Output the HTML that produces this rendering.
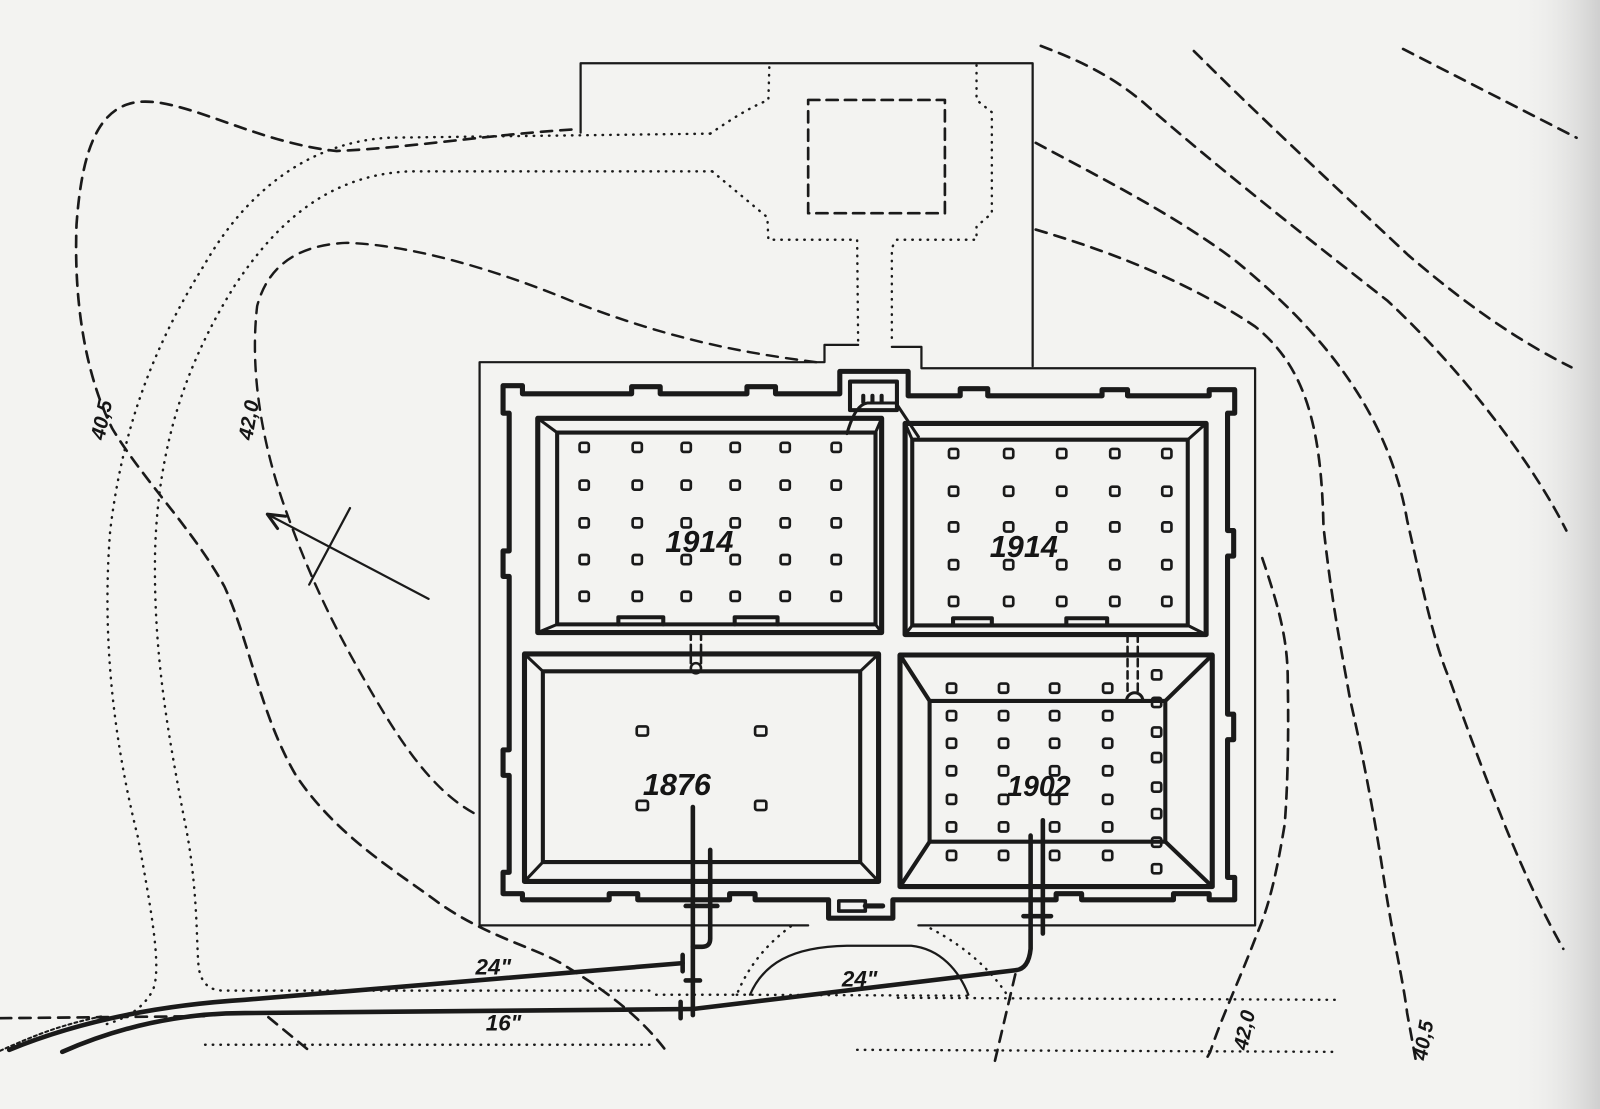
<!DOCTYPE html>
<html><head><meta charset="utf-8">
<style>
html,body{margin:0;padding:0;background:#f3f3f1;}
svg{display:block;}
text{font-family:"Liberation Sans",sans-serif;font-style:italic;font-weight:bold;fill:#151515;}
</style></head>
<body>
<svg width="1600" height="1109" viewBox="0 0 1568 1087" preserveAspectRatio="none" xmlns="http://www.w3.org/2000/svg">
<defs>
<linearGradient id="edge" x1="0" x2="1" y1="0" y2="0">
<stop offset="0" stop-color="#f3f3f1" stop-opacity="0"/>
<stop offset="1" stop-color="#cfcfcf"/>
</linearGradient>
</defs>
<rect width="1568" height="1087" fill="#f3f3f1"/>
<rect x="1480" y="0" width="88" height="1087" fill="url(#edge)"/>

<g fill="none" stroke="#1a1a1a" stroke-linecap="round" stroke-linejoin="round">
<g stroke-width="2.6" stroke-dasharray="11,8">
<path d="M560,127 C480,132 400,145 330,148 C250,140 180,95 135,100 C95,105 80,150 75,220 C72,300 85,370 110,420 C140,470 190,520 220,575 C245,630 255,700 290,760 C330,820 390,855 430,885 C480,920 530,930 556,948 C600,975 630,1000 652,1029"/>
<path d="M800,355 C720,345 650,330 560,295 C480,262 400,240 340,238 C290,240 262,262 252,300 C245,360 255,430 280,500 C305,570 330,620 365,680 C400,740 430,780 470,800" stroke-width="2.4"/>
<path d="M0,998 L200,996"/>
<path d="M263,997 L302,1029"/>
<path d="M1375,48 L1545,135"/>
<path d="M1170,50 C1230,110 1300,175 1380,250 C1450,310 1500,340 1540,360"/>
<path d="M1020,45 C1060,60 1090,75 1120,100 C1200,170 1290,240 1360,295 C1430,360 1500,450 1535,520"/>
<path d="M1015,140 C1080,175 1150,210 1210,255 C1290,320 1360,400 1379,510 C1395,580 1405,630 1421,667 C1440,720 1455,760 1470,797 C1495,860 1515,900 1532,930"/>
<path d="M1015,225 C1100,250 1170,280 1230,320 C1280,360 1295,420 1297,516 C1305,590 1315,640 1323,685 C1340,760 1350,820 1356,860 C1365,920 1375,960 1379,993 L1388,1042"/>
<path d="M1237,547 C1255,600 1262,630 1262,667 C1263,720 1262,770 1259,808 C1252,850 1245,885 1232,915 C1215,960 1198,995 1186,1031 L1180,1042"/>
<path d="M995,955 L975,1040"/>
</g>
<g stroke-width="2.4" stroke-dasharray="0.5,7">
<path d="M696,131 L380,135 C300,140 240,190 200,260 C150,340 120,420 108,520 C100,620 110,720 135,820 C150,900 158,950 150,970 C140,990 120,1000 100,1005"/>
<path d="M698,168 L400,168 C320,172 270,220 230,280 C180,360 155,440 152,540 C150,640 165,720 180,800 C195,870 192,930 195,950 C198,965 206,971 220,971 L640,971"/>
<path d="M696,131 C715,118 735,105 753,98 L754,64"/>
<path d="M698,168 L752,213 L753,235 L840,235 L841,338"/>
<path d="M957,64 L957,98 L972,110 L972,209 L957,222 L957,235 L879,235 C874,240 874,245 874,250 L874,338"/>
<path d="M201,1024 L640,1024"/>
<path d="M840,1029 L1310,1031"/>
<path d="M880,978 L1310,980"/>
<path d="M775,908 C745,930 730,955 722,975 L640,975"/>
<path d="M722,975 L950,976"/>
<path d="M912,910 C950,930 975,955 990,980"/>
</g>
<path d="M735,975 C748,945 775,928 830,927 L893,927 C922,930 940,952 949,975" stroke-width="2.2"/>
<rect x="792" y="98" width="134" height="111" stroke-width="2.6" stroke-dasharray="11,7"/>
<path d="M569,130 V62 H1012 V359" stroke-width="2.2"/>
<path d="M808,355 H470 V907 H792 M900,907 H1230 V361 H903 V340 H874 M841,338 H808 V355" stroke-width="2.2"/>

<path d="M493,378 H512 V386 H619 V379 H647 V386 H732 V379 H760 V386 H823 V364 H890 V388 H941 V381 H968 V388 H1080 V382 H1105 V388 H1185 V382 H1210 V405 H1203 V520 H1209 V545 H1203 V700 H1209 V725 H1203 V860 H1210 V882 H1185 V876 H1150 V882 H1060 V876 H1035 V882 H875 V900 H812 V882 H740 V876 H715 V882 H625 V876 H597 V882 H512 V876 H493 V855 H499 V760 H493 V735 H499 V565 H493 V540 H499 V405 H493 Z" stroke-width="5"/>
<rect x="833" y="374" width="46" height="28" stroke-width="4"/>
<rect x="822" y="883" width="26" height="10" stroke-width="3.5"/>
<path d="M848,888 H865" stroke-width="5"/>
<path d="M830,425 C836,405 842,396 850,395 L878,395 L900,428" stroke-width="3"/>
<path d="M846,394 V388 M855,394 V388 M864,394 V388" stroke-width="4"/>

<rect x="527" y="410" width="337" height="210" stroke-width="5"/>
<rect x="546" y="424" width="312" height="188" stroke-width="4"/>
<path d="M527,410 L546,424 M864,410 L858,424 M527,620 L546,612 M864,620 L858,612" stroke-width="3"/>
<path d="M606,612 V605 H650 V612 M720,612 V605 H762 V612" stroke-width="4"/>
<rect x="887" y="415" width="295" height="207" stroke-width="5"/>
<rect x="894" y="431" width="270" height="182" stroke-width="4"/>
<path d="M887,415 L894,431 M1182,415 L1164,431 M887,622 L894,613 M1182,622 L1164,613" stroke-width="3"/>
<path d="M934,613 V606 H972 V613 M1045,613 V606 H1085 V613" stroke-width="4"/>
<rect x="514" y="641" width="347" height="223" stroke-width="5"/>
<rect x="532" y="658" width="311" height="187" stroke-width="4"/>
<path d="M514,641 L532,658 M861,641 L843,658 M514,864 L532,845 M861,864 L843,845" stroke-width="3"/>
<rect x="882" y="642" width="306" height="227" stroke-width="5"/>
<rect x="911" y="687" width="231" height="138" stroke-width="4"/>
<path d="M882,642 L911,687 M1188,642 L1142,687 M882,869 L911,825 M1188,869 L1142,825" stroke-width="4"/>

<path d="M677,620 V650 M687,620 V650 M1105,622 V680 M1115,622 V680" stroke-width="2.5" stroke-dasharray="7,5"/>
<circle cx="682" cy="655" r="5" stroke-width="2.5"/>
<path d="M1104,687 A8,8 0 0 1 1120,687" stroke-width="3"/>

<g stroke-width="4.5">
<path d="M679,791 V995"/>
<path d="M696,833 V920 Q696,928 688,928 H679"/>
<path d="M1022,804 V915"/>
<path d="M1010,819 V930 Q1008,950 995,951 L679,989"/>
<path d="M9,1029 C80,1000 160,985 240,980 L669,944"/>
<path d="M61,1031 C120,1005 180,993 240,993 L679,989"/>
<path d="M669,936 V952 M667,982 V998 M672,888 H703 M672,961 H686 M1003,898 H1030"/>
</g>
<path d="M0,1030 C40,1012 60,1005 100,996" stroke-width="2" stroke-dasharray="3,3"/>

<path d="M420,587 L262,504" stroke-width="2.2"/>
<path d="M262,504 L280,506 M262,504 L272,518" stroke-width="3"/>
<path d="M343,498 L303,573" stroke-width="2.2"/>
</g>

<g fill="none" stroke="#1a1a1a" stroke-width="2.6">
<g>
<rect x="568" y="434" width="9" height="9" rx="2"/><rect x="620" y="434" width="9" height="9" rx="2"/><rect x="668" y="434" width="9" height="9" rx="2"/><rect x="716" y="434" width="9" height="9" rx="2"/><rect x="765" y="434" width="9" height="9" rx="2"/><rect x="815" y="434" width="9" height="9" rx="2"/>
<rect x="568" y="471" width="9" height="9" rx="2"/><rect x="620" y="471" width="9" height="9" rx="2"/><rect x="668" y="471" width="9" height="9" rx="2"/><rect x="716" y="471" width="9" height="9" rx="2"/><rect x="765" y="471" width="9" height="9" rx="2"/><rect x="815" y="471" width="9" height="9" rx="2"/>
<rect x="568" y="508" width="9" height="9" rx="2"/><rect x="620" y="508" width="9" height="9" rx="2"/><rect x="668" y="508" width="9" height="9" rx="2"/><rect x="716" y="508" width="9" height="9" rx="2"/><rect x="765" y="508" width="9" height="9" rx="2"/><rect x="815" y="508" width="9" height="9" rx="2"/>
<rect x="568" y="544" width="9" height="9" rx="2"/><rect x="620" y="544" width="9" height="9" rx="2"/><rect x="668" y="544" width="9" height="9" rx="2"/><rect x="716" y="544" width="9" height="9" rx="2"/><rect x="765" y="544" width="9" height="9" rx="2"/><rect x="815" y="544" width="9" height="9" rx="2"/>
<rect x="568" y="580" width="9" height="9" rx="2"/><rect x="620" y="580" width="9" height="9" rx="2"/><rect x="668" y="580" width="9" height="9" rx="2"/><rect x="716" y="580" width="9" height="9" rx="2"/><rect x="765" y="580" width="9" height="9" rx="2"/><rect x="815" y="580" width="9" height="9" rx="2"/>
</g>
<g>
<rect x="930" y="440" width="9" height="9" rx="2"/><rect x="984" y="440" width="9" height="9" rx="2"/><rect x="1036" y="440" width="9" height="9" rx="2"/><rect x="1088" y="440" width="9" height="9" rx="2"/><rect x="1139" y="440" width="9" height="9" rx="2"/>
<rect x="930" y="477" width="9" height="9" rx="2"/><rect x="984" y="477" width="9" height="9" rx="2"/><rect x="1036" y="477" width="9" height="9" rx="2"/><rect x="1088" y="477" width="9" height="9" rx="2"/><rect x="1139" y="477" width="9" height="9" rx="2"/>
<rect x="930" y="512" width="9" height="9" rx="2"/><rect x="984" y="512" width="9" height="9" rx="2"/><rect x="1036" y="512" width="9" height="9" rx="2"/><rect x="1088" y="512" width="9" height="9" rx="2"/><rect x="1139" y="512" width="9" height="9" rx="2"/>
<rect x="930" y="549" width="9" height="9" rx="2"/><rect x="984" y="549" width="9" height="9" rx="2"/><rect x="1036" y="549" width="9" height="9" rx="2"/><rect x="1088" y="549" width="9" height="9" rx="2"/><rect x="1139" y="549" width="9" height="9" rx="2"/>
<rect x="930" y="585" width="9" height="9" rx="2"/><rect x="984" y="585" width="9" height="9" rx="2"/><rect x="1036" y="585" width="9" height="9" rx="2"/><rect x="1088" y="585" width="9" height="9" rx="2"/><rect x="1139" y="585" width="9" height="9" rx="2"/>
</g>
<g>
<rect x="624" y="712" width="11" height="9" rx="2"/><rect x="740" y="712" width="11" height="9" rx="2"/>
<rect x="624" y="785" width="11" height="9" rx="2"/><rect x="740" y="785" width="11" height="9" rx="2"/>
</g>
<g>
<rect x="928" y="670" width="9" height="9" rx="2"/><rect x="979" y="670" width="9" height="9" rx="2"/><rect x="1029" y="670" width="9" height="9" rx="2"/><rect x="1081" y="670" width="9" height="9" rx="2"/>
<rect x="928" y="697" width="9" height="9" rx="2"/><rect x="979" y="697" width="9" height="9" rx="2"/><rect x="1029" y="697" width="9" height="9" rx="2"/><rect x="1081" y="697" width="9" height="9" rx="2"/>
<rect x="928" y="724" width="9" height="9" rx="2"/><rect x="979" y="724" width="9" height="9" rx="2"/><rect x="1029" y="724" width="9" height="9" rx="2"/><rect x="1081" y="724" width="9" height="9" rx="2"/>
<rect x="928" y="751" width="9" height="9" rx="2"/><rect x="979" y="751" width="9" height="9" rx="2"/><rect x="1029" y="751" width="9" height="9" rx="2"/><rect x="1081" y="751" width="9" height="9" rx="2"/>
<rect x="928" y="779" width="9" height="9" rx="2"/><rect x="979" y="779" width="9" height="9" rx="2"/><rect x="1029" y="779" width="9" height="9" rx="2"/><rect x="1081" y="779" width="9" height="9" rx="2"/>
<rect x="928" y="806" width="9" height="9" rx="2"/><rect x="979" y="806" width="9" height="9" rx="2"/><rect x="1029" y="806" width="9" height="9" rx="2"/><rect x="1081" y="806" width="9" height="9" rx="2"/>
<rect x="928" y="834" width="9" height="9" rx="2"/><rect x="979" y="834" width="9" height="9" rx="2"/><rect x="1029" y="834" width="9" height="9" rx="2"/><rect x="1081" y="834" width="9" height="9" rx="2"/>
<rect x="1129" y="657" width="9" height="9" rx="2"/><rect x="1129" y="684" width="9" height="9" rx="2"/><rect x="1129" y="713" width="9" height="9" rx="2"/><rect x="1129" y="738" width="9" height="9" rx="2"/><rect x="1129" y="767" width="9" height="9" rx="2"/><rect x="1129" y="793" width="9" height="9" rx="2"/><rect x="1129" y="821" width="9" height="9" rx="2"/><rect x="1129" y="847" width="9" height="9" rx="2"/>
</g>
</g>

<text x="652" y="541" font-size="30">1914</text>
<text x="970" y="546" font-size="30">1914</text>
<text x="630" y="779" font-size="30">1876</text>
<text x="987" y="780" font-size="28">1902</text>
<text x="466" y="955" font-size="22">24"</text>
<text x="825" y="967" font-size="22">24"</text>
<text x="476" y="1010" font-size="22">16"</text>
<text font-size="20" transform="translate(102,432) rotate(-78)">40,5</text>
<text font-size="20" transform="translate(247,432) rotate(-80)">42,0</text>
<text font-size="20" transform="translate(1222,1030) rotate(-78)">42,0</text>
<text font-size="20" transform="translate(1398,1040) rotate(-80)">40,5</text>
</svg>
</body></html>
